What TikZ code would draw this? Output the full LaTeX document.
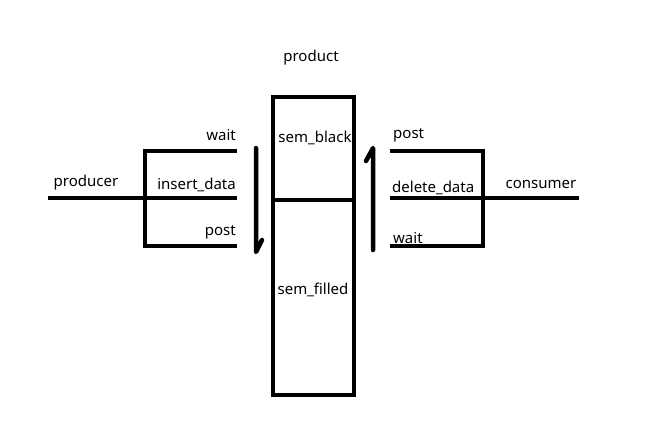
\documentclass[tikz,border=0pt]{standalone}
\usepackage{fontspec}
\setmainfont{Noto Sans}
\begin{document}
\begin{tikzpicture}[x=1pt,y=-1pt]
			\tikzstyle{every node}+=[inner sep=0pt,font=\fontsize{15}{17}\selectfont]
			\tikzstyle{thick line}=[line width=4.5pt,black]
			\useasboundingbox (0,0) rectangle (661,439);
			% the buffer
			\draw [thick line] (273,97) rectangle (354,395);
			\draw [thick line] (273,200) -- (354,200);
			\draw (311,58) node {product};
			\draw (315,138) node {sem\_black};
			\draw (313,290) node {sem\_filled};
			% producer side
			\draw [thick line] (237,151) -- (145,151) -- (145,246) -- (237,246);
			\draw [thick line] (48,198) -- (237,198);
			\draw (86,183) node {producer};
			\draw (236,135) node [anchor=east] {wait};
			\draw (236,185) node [anchor=east] {insert\_data};
			\draw (236,232) node [anchor=east] {post};
			\draw [thick line,line cap=round,line join=round] (256,148) -- (256,252) -- (262,240);
			% consumer side
			\draw [thick line] (390,151) -- (483,151) -- (483,246) -- (390,246);
			\draw [thick line] (390,198) -- (579,198);
			\draw (541,184) node {consumer};
			\draw (393,135) node [anchor=west] {post};
			\draw (392,188) node [anchor=west] {delete\_data};
			\draw (393,238) node [anchor=west] {wait};
			\draw [thick line,line cap=round,line join=round] (373,250) -- (373,148) -- (366,161);
		\end{tikzpicture}
\end{document}
